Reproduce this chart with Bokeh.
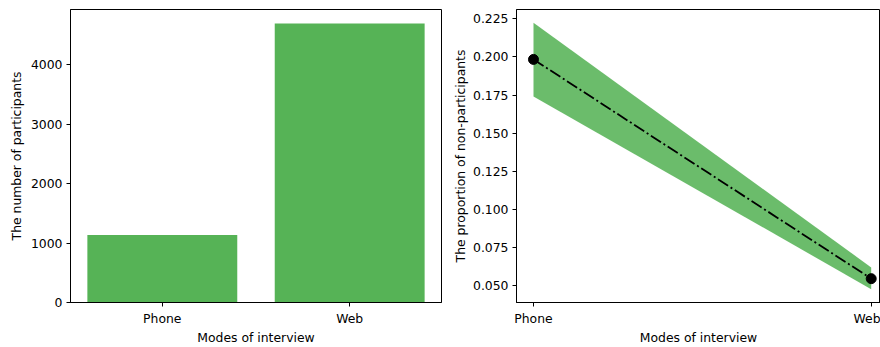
from bokeh.plotting import figure
from bokeh.layouts import row
from bokeh.models import FixedTicker, Range1d
from bokeh.embed import file_html
from bokeh.resources import INLINE

# Survey data by interview mode
modes = ["Phone", "Web"]
participants = [1135, 4690]
nonpart_prop = [0.1984, 0.0546]
nonpart_lower = [0.1741, 0.0477]
nonpart_upper = [0.2224, 0.0620]

FONT = "DejaVu Sans"
GREEN = "#2ca02c"
xs = list(range(len(modes)))
labels = {i: m for i, m in enumerate(modes)}


def style(p, xlabel, ylabel):
    p.outline_line_color = "black"
    p.outline_line_width = 1
    p.grid.visible = False
    for ax in (p.xaxis[0], p.yaxis[0]):
        ax.axis_line_color = "black"
        ax.axis_line_width = 1
        ax.major_tick_line_color = "black"
        ax.major_tick_line_width = 1
        ax.major_tick_in = 0
        ax.major_tick_out = 4
        ax.minor_tick_line_color = None
        ax.major_label_text_font = FONT
        ax.major_label_text_font_size = "12.4px"
        ax.major_label_text_color = "black"
        ax.axis_label_text_font = FONT
        ax.axis_label_text_font_size = "12.4px"
        ax.axis_label_text_font_style = "normal"
        ax.axis_label_text_color = "black"
        ax.major_label_standoff = 4
    p.xaxis.axis_label = xlabel
    p.yaxis.axis_label = ylabel
    p.xaxis.ticker = FixedTicker(ticks=xs)
    p.xaxis.major_label_overrides = labels
    p.xaxis.axis_label_standoff = 1


# Left: number of participants per mode
top = max(participants) * 1.05
left = figure(width=450, height=347, output_backend="svg", toolbar_location=None,
              x_range=Range1d(-0.49, 1.49), y_range=Range1d(0, top),
              min_border_left=70, min_border_right=9,
              min_border_top=9, min_border_bottom=43)
left.vbar(x=xs, top=participants, width=0.8, bottom=0,
          fill_color=GREEN, fill_alpha=0.8, line_color=None)
style(left, "Modes of interview", "The number of participants")
left.yaxis.ticker = FixedTicker(ticks=[0, 1000, 2000, 3000, 4000])
left.yaxis.axis_label_standoff = 4

# Right: proportion of non-participants with confidence band
lo, hi = min(nonpart_lower), max(nonpart_upper)
pad = (hi - lo) * 0.05
right = figure(width=430, height=347, output_backend="svg", toolbar_location=None,
               x_range=Range1d(-0.0503, 1.0275), y_range=Range1d(lo - pad, hi + pad),
               min_border_left=66, min_border_right=0,
               min_border_top=9, min_border_bottom=43)
right.varea(x=xs, y1=nonpart_lower, y2=nonpart_upper, fill_color=GREEN, fill_alpha=0.7)
right.line(x=xs, y=nonpart_prop, line_color="black", line_width=1.8, line_dash="12 3 2 3")
right.scatter(x=xs, y=nonpart_prop, size=10, fill_color="black", line_color="black")
style(right, "Modes of interview", "The proportion of non-participants")
right.yaxis.ticker = FixedTicker(ticks=[0.05, 0.075, 0.1, 0.125, 0.15, 0.175, 0.2, 0.225])
right.yaxis.major_label_overrides = {0.05: "0.050", 0.075: "0.075", 0.1: "0.100", 0.125: "0.125",
                                     0.15: "0.150", 0.175: "0.175", 0.2: "0.200", 0.225: "0.225"}
right.yaxis.axis_label_standoff = 2

layout = row(left, right)
open("out.html", "w").write(file_html(layout, INLINE))
